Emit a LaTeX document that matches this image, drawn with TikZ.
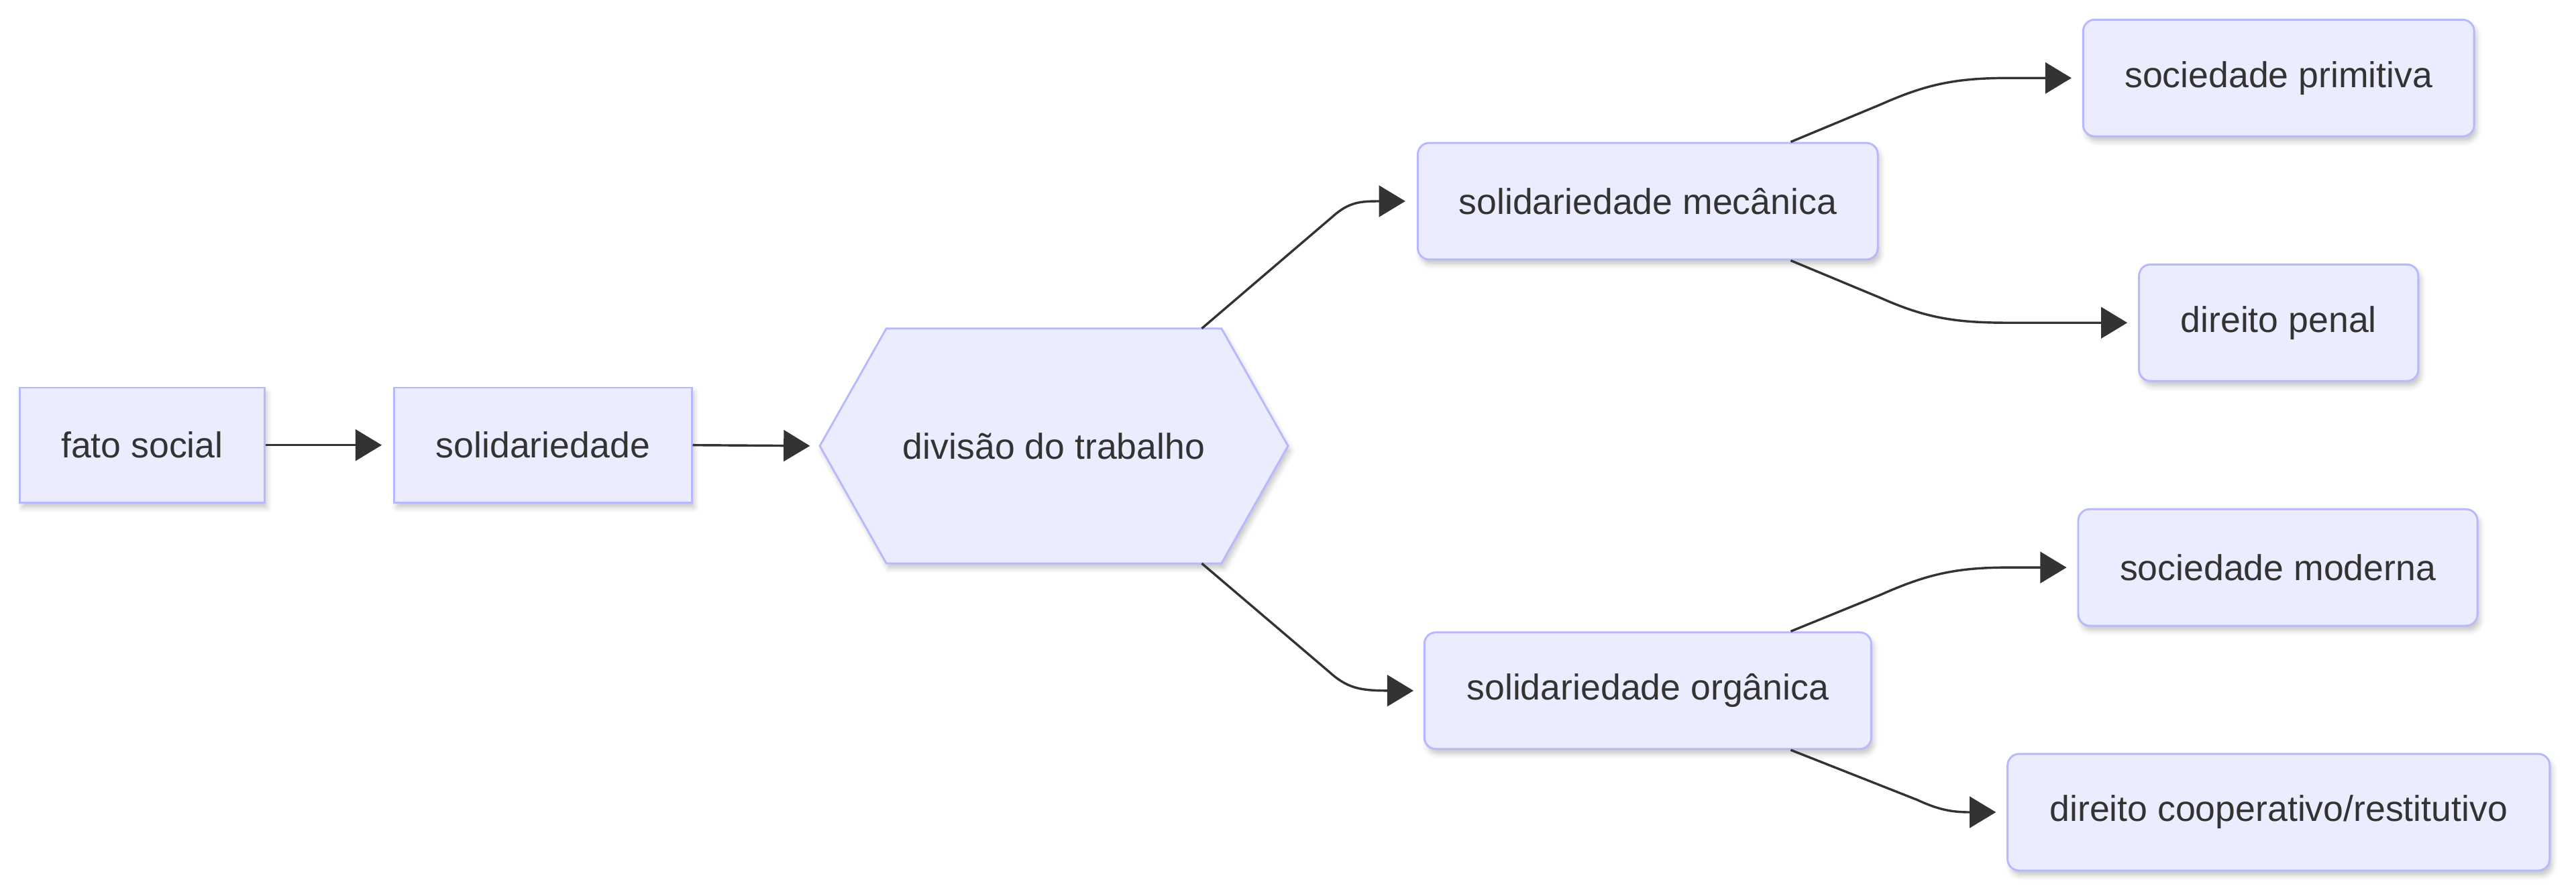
\documentclass[tikz,border=0pt]{standalone}
\usepackage{fontspec}
\setmainfont{Liberation Sans}
\usetikzlibrary{arrows.meta,shadows.blur}
\definecolor{nodefill}{HTML}{ECECFF}
\definecolor{nodeborder}{HTML}{B8B8FF}
\definecolor{ink}{HTML}{333333}
\tikzset{
  boxbase/.style={draw=nodeborder, fill=nodefill, line width=1.2pt, text=ink,
    inner sep=0pt, minimum height=71pt, align=center,
    font=\fontsize{21.9pt}{26pt}\selectfont,
    blur shadow={shadow xshift=1.5pt, shadow yshift=-3pt, shadow blur radius=3pt, shadow opacity=22}},
  sharpbox/.style={boxbase, rectangle},
  roundbox/.style={boxbase, rectangle, rounded corners=7pt},
  hexshape/.style={draw=nodeborder, fill=nodefill, line width=1.2pt,
    blur shadow={shadow xshift=1.5pt, shadow yshift=-3pt, shadow blur radius=3pt, shadow opacity=22}},
  hextext/.style={text=ink, inner sep=0pt, font=\fontsize{21.9pt}{26pt}\selectfont},
  edge/.style={draw=ink, line width=1.4pt, -{Triangle[length=16pt,width=19pt]}, shorten >=6.5pt}
}
\begin{document}
\begin{tikzpicture}[x=1pt, y=-1pt]
\useasboundingbox (0,0) rectangle (1568,544.3);
% nodes
\node[sharpbox, minimum width=149pt, minimum height=70pt] (fato) at (86.5,271) {fato social};
\node[sharpbox, minimum width=181pt, minimum height=70pt] (solid) at (330.5,271) {solidariedade};
% hexagon
\coordinate (hc) at (641.5,271.5);
\coordinate (hexW) at (499,271.5);
\coordinate (hexTop) at (731.5,200);
\coordinate (hexBot) at (731.5,343);
\path[hexshape] (499,271.5) -- (539.5,200) -- (743.5,200) -- (784,271.5) -- (743.5,343) -- (539.5,343) -- cycle;
\node[hextext] (hex) at (hc) {divisão do trabalho};
\node[roundbox, minimum width=280pt] (mec) at (1003,122.5) {solidariedade mecânica};
\node[roundbox, minimum width=272pt] (org) at (1003,420.5) {solidariedade orgânica};
\node[roundbox, minimum width=238pt] (socp) at (1387,47.5) {sociedade primitiva};
\node[roundbox, minimum width=170pt] (dpen) at (1387,196.5) {direito penal};
\node[roundbox, minimum width=243pt] (socm) at (1386.5,345.5) {sociedade moderna};
\node[roundbox, minimum width=330pt] (dcoop) at (1387,494.5) {direito cooperativo/restitutivo};
% edges
\draw[edge, shorten >=7pt] (fato) -- (solid);
\draw[edge, shorten >=6pt] (solid.east) -- (hexW);
\draw[edge, shorten >=7pt] (hexTop) -- (811,132) .. controls (821,123) and (828,122.5) .. (mec.west);
\draw[edge, shorten >=6pt] (hexBot) -- (809,409) .. controls (820,419) and (828,420.5) .. (org.west);
\draw[edge] ([xshift=87pt]mec.north) -- (1145,63.5) .. controls (1172,51.5) and (1190,47.5) .. (1222,47.5) -- (socp.west);
\draw[edge] ([xshift=87pt]mec.south) -- (1145,181.5) .. controls (1172,193.5) and (1190,196.5) .. (1222,196.5) -- (dpen.west);
\draw[edge] ([xshift=87pt]org.north) -- (1145,362) .. controls (1172,350) and (1190,345.5) .. (1222,345.5) -- (socm.west);
\draw[edge] ([xshift=87pt]org.south) -- (1167,487) .. controls (1180,493) and (1188,494.5) .. (dcoop.west);
\end{tikzpicture}
\end{document}
